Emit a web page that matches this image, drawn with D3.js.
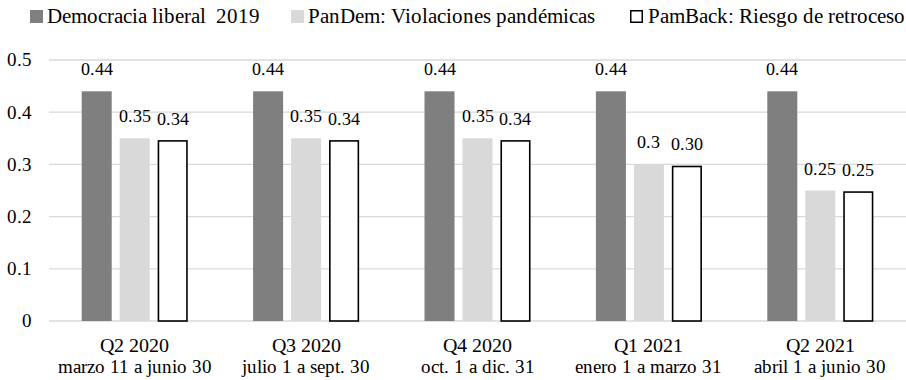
<!DOCTYPE html>
<html>
<head>
<meta charset="utf-8">
<script src="https://cdn.jsdelivr.net/npm/d3@7"></script>
<style>
  @font-face { font-family: 'ChartSerif'; src: local('Liberation Serif'), local('LiberationSerif'), local('LiberationSerif-Regular'); }
  svg text { font-family: 'ChartSerif', 'Liberation Serif', serif; }
</style>
</head>
<body style="margin:0">
<svg id="chart" width="906" height="380"></svg>
<script>
const quarters = ["Q2 2020", "Q3 2020", "Q4 2020", "Q1 2021", "Q2 2021"];
const periods = ["marzo 11 a junio 30", "julio 1 a sept. 30", "oct. 1 a dic. 31", "enero 1 a marzo 31", "abril 1 a junio 30"];
const seriesNames = ["Democracia liberal  2019", "PanDem: Violaciones pandémicas", "PamBack: Riesgo de retroceso"];
const liberal = [0.44, 0.44, 0.44, 0.44, 0.44];
const pandem = [0.35, 0.35, 0.35, 0.30, 0.25];
const pamback = [0.345, 0.345, 0.345, 0.296, 0.247];
const liberalLabels = ["0.44", "0.44", "0.44", "0.44", "0.44"];
const pandemLabels = ["0.35", "0.35", "0.35", "0.3", "0.25"];
const pambackLabels = ["0.34", "0.34", "0.34", "0.30", "0.25"];
const yTicks = [0, 0.1, 0.2, 0.3, 0.4, 0.5];

const width = 906, height = 380;
const margin = {top: 60, right: 0, bottom: 59, left: 49};
const FONT = "'ChartSerif', 'Liberation Serif', serif";

const svg = d3.select("#chart");

let y = d3.scaleLinear()
    .domain([0, 0.5])
    .range([height - margin.bottom, margin.top]);

let x0 = d3.scaleBand()
    .domain(quarters)
    .range([margin.left, width - margin.right]);

let x1 = d3.scaleBand()
    .domain(seriesNames)
    .range([-53, 53])
    .paddingInner(0.21);

const fills = ["#7f7f7f", "#d9d9d9", "#ffffff"];
const strokes = ["none", "none", "#000"];

// gridlines
svg.append("g")
    .selectAll("line")
    .data(yTicks)
    .join("line")
        .attr("x1", margin.left)
        .attr("x2", width - margin.right)
        .attr("y1", d => y(d))
        .attr("y2", d => y(d))
        .attr("stroke", "#d9d9d9")
        .attr("stroke-width", 1.3);

// y axis labels
svg.append("g")
    .selectAll("text")
    .data(yTicks)
    .join("text")
        .attr("x", 32)
        .attr("y", d => y(d))
        .attr("dy", "0.35em")
        .attr("text-anchor", "end")
        .style("font-size", "18.5px")
        .text(d => d === 0 ? "0" : d3.format(".1f")(d));

const rows = quarters.map((q, i) => ({
    q: q,
    vals: [
        {s: seriesNames[0], v: liberal[i], lab: liberalLabels[i], k: 0},
        {s: seriesNames[1], v: pandem[i], lab: pandemLabels[i], k: 1},
        {s: seriesNames[2], v: pamback[i], lab: pambackLabels[i], k: 2}
    ]
}));

let groups = svg.append("g")
    .selectAll("g")
    .data(rows)
    .join("g")
        .attr("transform", d => "translate(" + (x0(d.q) + x0.bandwidth() / 2) + ",0)");

groups.selectAll("rect")
    .data(d => d.vals)
    .join("rect")
        .attr("x", d => x1(d.s) + (d.k === 2 ? 0.75 : 0))
        .attr("y", d => y(d.v))
        .attr("width", d => x1.bandwidth() - (d.k === 2 ? 1.5 : 0))
        .attr("height", d => y(0) - y(d.v))
        .attr("fill", d => fills[d.k])
        .attr("stroke", d => strokes[d.k])
        .attr("stroke-width", 1.6);

groups.selectAll("text.val")
    .data(d => d.vals)
    .join("text")
        .attr("class", "val")
        .attr("x", d => x1(d.s) + x1.bandwidth() / 2)
        .attr("y", d => y(d.v) - 16)
        .attr("text-anchor", "middle")
        .style("font-size", "18px")
        .text(d => d.lab);

// category labels
let xg = svg.append("g")
    .selectAll("g")
    .data(quarters)
    .join("g")
        .attr("transform", d => "translate(" + (x0(d) + x0.bandwidth() / 2) + ",0)");

xg.append("text")
    .attr("y", 352)
    .attr("text-anchor", "middle")
    .style("font-size", "20px")
    .text(d => d);

xg.append("text")
    .attr("y", 373)
    .attr("text-anchor", "middle")
    .style("font-size", "18.5px")
    .text((d, i) => periods[i]);

// legend
const legendX = [30, 291, 630];
let leg = svg.append("g")
    .selectAll("g")
    .data(seriesNames)
    .join("g")
        .attr("transform", (d, i) => "translate(" + legendX[i] + ",0)");

leg.append("rect")
    .attr("x", (d, i) => i === 2 ? 0.75 : 0)
    .attr("y", (d, i) => i === 2 ? 10.75 : 10)
    .attr("width", (d, i) => i === 2 ? 11.5 : 13)
    .attr("height", (d, i) => i === 2 ? 11.5 : 13)
    .attr("fill", (d, i) => fills[i])
    .attr("stroke", (d, i) => strokes[i])
    .attr("stroke-width", 1.5);

leg.append("text")
    .attr("x", (d, i) => i === 2 ? 18 : 17)
    .attr("y", 23)
    .style("font-size", "20.5px")
    .style("white-space", "pre")
    .text(d => d);

svg.selectAll("text").style("font-family", FONT);
</script>
</body>
</html>
